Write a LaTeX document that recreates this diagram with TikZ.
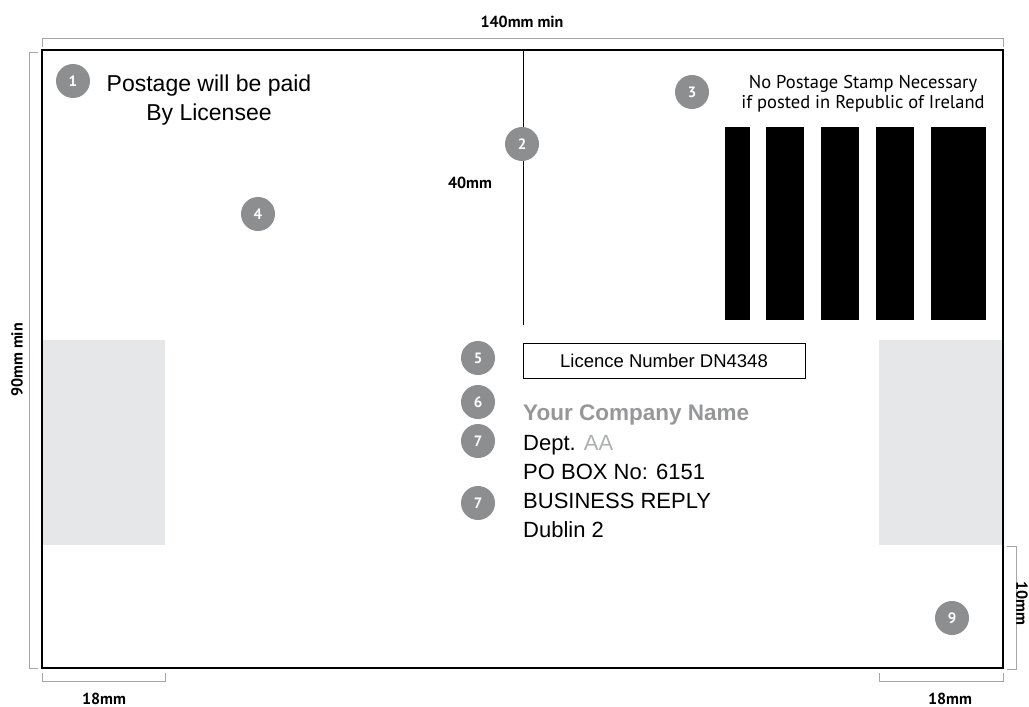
\documentclass[tikz,border=0pt]{standalone}
\usepackage{fontspec}
\setmainfont{Liberation Sans}
\newfontfamily\stampfont{PT Sans}
\newfontfamily\dimfont{PT Sans}
\definecolor{badgegray}{RGB}{141,142,144}
\definecolor{padgray}{RGB}{230,231,232}
\definecolor{namegray}{RGB}{150,151,153}
\definecolor{aagray}{RGB}{175,176,178}
\definecolor{dimgray}{RGB}{165,165,165}
\tikzset{
  badge/.style={circle,fill=badgegray,minimum size=34pt,inner sep=0pt,text=white,font=\dimfont\bfseries\fontsize{15}{15}\selectfont},
  dimline/.style={dimgray,line width=1pt},
  dimlabel/.style={inner sep=0pt,font=\dimfont\bfseries\fontsize{16}{16}\selectfont},
  addrline/.style={anchor=base west,inner sep=0pt,font=\fontsize{22}{22}\selectfont},
}
\begin{document}
\begin{tikzpicture}[x=1pt,y=-1pt]
  \useasboundingbox (0,0) rectangle (1029,707);
  \clip (0,0) rectangle (1029,707);
  \fill[padgray] (42,340) rectangle (165,545);
  \fill[padgray] (879,340) rectangle (1003,545);
  \draw[line width=1.2pt] (42,50) rectangle (1003,668);
  \draw[line width=1pt] (523,50) -- (523,325);
  \foreach \xa/\xb in {725/750,766/804,821/859,876/914,931/986}
    \fill (\xa,127) rectangle (\xb,320);
  \draw[dimline] (42,47) -- (42,38) -- (1003,38) -- (1003,47);
  \draw[dimline] (38,52) -- (29,52) -- (29,668) -- (38,668);
  \draw[dimline] (1007,546) -- (1016,546) -- (1016,669) -- (1007,669);
  \draw[dimline] (42,673) -- (42,681) -- (165,681) -- (165,673);
  \draw[dimline] (879,673) -- (879,681) -- (1003,681) -- (1003,673);
  \node[dimlabel] (width) at (522,22) {140mm min};
  \node[dimlabel,rotate=90] (height) at (17,360) {90mm min};
  \node[dimlabel] (divlen) at (470,183) {40mm};
  \node[dimlabel] (leftpad) at (104,699) {18mm};
  \node[dimlabel] (rightpad) at (950,699) {18mm};
  \node[dimlabel,rotate=-90] (botmargin) at (1022,603) {10mm};
  \node[anchor=base,inner sep=0pt,font=\fontsize{23}{23}\selectfont] (paid) at (209,91) {Postage will be paid};
  \node[anchor=base,inner sep=0pt,font=\fontsize{23}{23}\selectfont] (licensee) at (209,120) {By Licensee};
  \node[anchor=base,inner sep=0pt,font=\stampfont\fontsize{18.5}{18.5}\selectfont] (stamp1) at (863,88) {No Postage Stamp Necessary};
  \node[anchor=base,inner sep=0pt,font=\stampfont\fontsize{18.5}{18.5}\selectfont] (stamp2) at (863,108) {if posted in Republic of Ireland};
  \node[draw,line width=1pt,minimum width=282pt,minimum height=35pt,inner sep=0pt,font=\fontsize{18.5}{18.5}\selectfont] (licence) at (664,360.5) {Licence Number DN4348};
  \node[addrline,text=namegray,font=\bfseries\fontsize{22.5}{22.5}\selectfont] (company) at (523,420) {Your Company Name};
  \node[addrline] (dept) at (523,450) {Dept. \textcolor{aagray}{AA}};
  \node[addrline] (pobox) at (523,479) {PO BOX No: 6151};
  \node[addrline] (reply) at (523,508) {BUSINESS REPLY};
  \node[addrline] (city) at (523,537) {Dublin 2};
  \node[badge] (b1) at (73,81) {1};
  \node[badge] (b2) at (522,144) {2};
  \node[badge] (b3) at (692,92) {3};
  \node[badge] (b4) at (258,214) {4};
  \node[badge] (b5) at (478,358) {5};
  \node[badge] (b6) at (478,402) {6};
  \node[badge] (b7a) at (478,441) {7};
  \node[badge] (b7b) at (478,503) {7};
  \node[badge] (b9) at (952,618) {9};
\end{tikzpicture}
\end{document}
